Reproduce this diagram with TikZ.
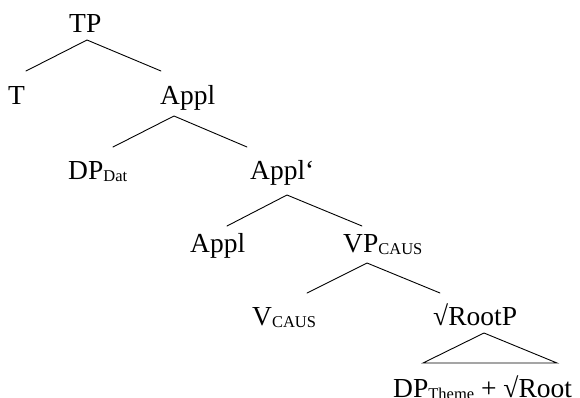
\documentclass[tikz,border=0pt]{standalone}
\usepackage{fontspec}
\setmainfont{Liberation Serif}
\newcommand{\lbl}{\fontsize{27.5}{30}\selectfont}
\newcommand{\subl}[1]{\raisebox{-2pt}{\fontsize{16.5}{18}\selectfont #1}}
\tikzset{
  lab/.style={anchor=base west, inner sep=0pt, font=\lbl},
  br/.style={line width=0.9pt, line cap=round}
}
\begin{document}
\begin{tikzpicture}[x=1pt,y=-1pt]
\useasboundingbox[fill=white] (0,0) rectangle (580,398);
% labels
\node[lab] (TP) at (69,33) {TP};
\node[lab] (T) at (8,105) {T};
\node[lab] (ApplA) at (160,105) {Appl};
\node[lab] (DPDat) at (68,179) {DP\subl{Dat}};
\node[lab] (ApplP) at (250,179) {Appl‘};
\node[lab] (ApplB) at (190,252) {Appl};
\node[lab] (VP) at (343,252) {VP\subl{CAUS}};
\node[lab] (V) at (252,325) {V\subl{CAUS}};
\node[lab] (RootP) at (433,325) {√RootP};
\node[lab] (Bot) at (393,397) {DP\subl{Theme} + √Root};
% branch points
\coordinate (a1) at (87,40);  \coordinate (a1l) at (26,71);  \coordinate (a1r) at (161,71);
\coordinate (a2) at (174,116); \coordinate (a2l) at (113,147); \coordinate (a2r) at (247,147);
\coordinate (a3) at (287,195); \coordinate (a3l) at (227,226); \coordinate (a3r) at (362,226);
\coordinate (a4) at (367,263); \coordinate (a4l) at (307,293); \coordinate (a4r) at (440,293);
\coordinate (a5) at (484,333); \coordinate (a5l) at (423,363); \coordinate (a5r) at (557,363);
\draw[br] (a1l) -- (a1) -- (a1r);
\draw[br] (a2l) -- (a2) -- (a2r);
\draw[br] (a3l) -- (a3) -- (a3r);
\draw[br] (a4l) -- (a4) -- (a4r);
\draw[br] (a5l) -- (a5) -- (a5r) -- cycle;
\end{tikzpicture}
\end{document}
